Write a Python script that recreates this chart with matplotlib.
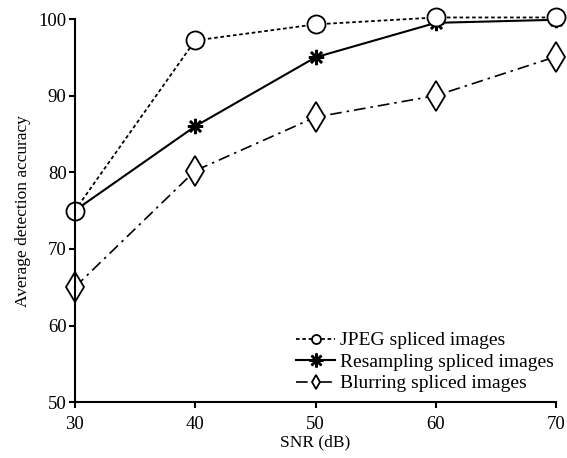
import matplotlib.pyplot as plt

plt.rcParams["font.family"] = ["Liberation Serif", "DejaVu Serif"]
plt.rcParams["font.size"] = 12

snr = [30, 40, 50, 60, 70]
jpeg = [75.0, 97.2, 99.3, 100.2, 100.2]
resampling = [75.0, 86.0, 95.0, 99.5, 99.9]
blurring = [65.0, 80.2, 87.2, 90.0, 95.1]

fig = plt.figure(figsize=(5.67, 4.58), dpi=100)
ax = fig.add_axes([0.132, 0.122, 0.849, 0.8365])

# plotting order so circles sit on top, like the original
ax.plot(snr, blurring, linestyle=(0, (7, 3, 1.5, 3)), color="black", lw=1.2,
        marker="d", markersize=15, markerfacecolor="white",
        markeredgecolor="black", markeredgewidth=1.3, clip_on=False,
        label="Blurring spliced images")
ax.plot(snr, resampling, linestyle="-", color="black", lw=1.5,
        marker=(8, 2, 0), markersize=11, markeredgewidth=1.8,
        markeredgecolor="black", clip_on=False,
        label="Resampling spliced images")
ax.plot(snr, jpeg, linestyle=(0, (2, 1.5)), color="black", lw=1.3,
        marker="o", markersize=13, markerfacecolor="white",
        markeredgecolor="black", markeredgewidth=1.3, clip_on=False,
        label="JPEG spliced images")

ax.set_xlim(30, 70)
ax.set_ylim(50, 100)
ax.set_xticks([30, 40, 50, 60, 70])
ax.set_yticks([50, 60, 70, 80, 90, 100])
ax.spines["top"].set_visible(False)
ax.spines["right"].set_visible(False)
ax.spines["left"].set_linewidth(1.5)
ax.spines["bottom"].set_linewidth(1.5)
ax.tick_params(direction="out", length=4, width=1.5, labelsize=13.5)
ax.tick_params(axis="x", pad=6)
ax.tick_params(axis="y", pad=2)

ax.set_xlabel("SNR (dB)", fontsize=12.5, labelpad=1)
ax.set_ylabel("Average detection accuracy", fontsize=12.5, labelpad=5)

handles, labels = ax.get_legend_handles_labels()
leg = ax.legend(handles[::-1], labels[::-1], loc="lower right", frameon=False,
                fontsize=14, handlelength=2.0, handletextpad=0.25,
                labelspacing=0.2, borderaxespad=0.2,
                bbox_to_anchor=(1.019, -0.005))
# smaller legend markers, asterisk kept visible
for h, ms in zip(leg.legend_handles, [6.5, 10, 7]):
    h.set_markersize(ms)

fig.savefig("out.png", dpi=100)
